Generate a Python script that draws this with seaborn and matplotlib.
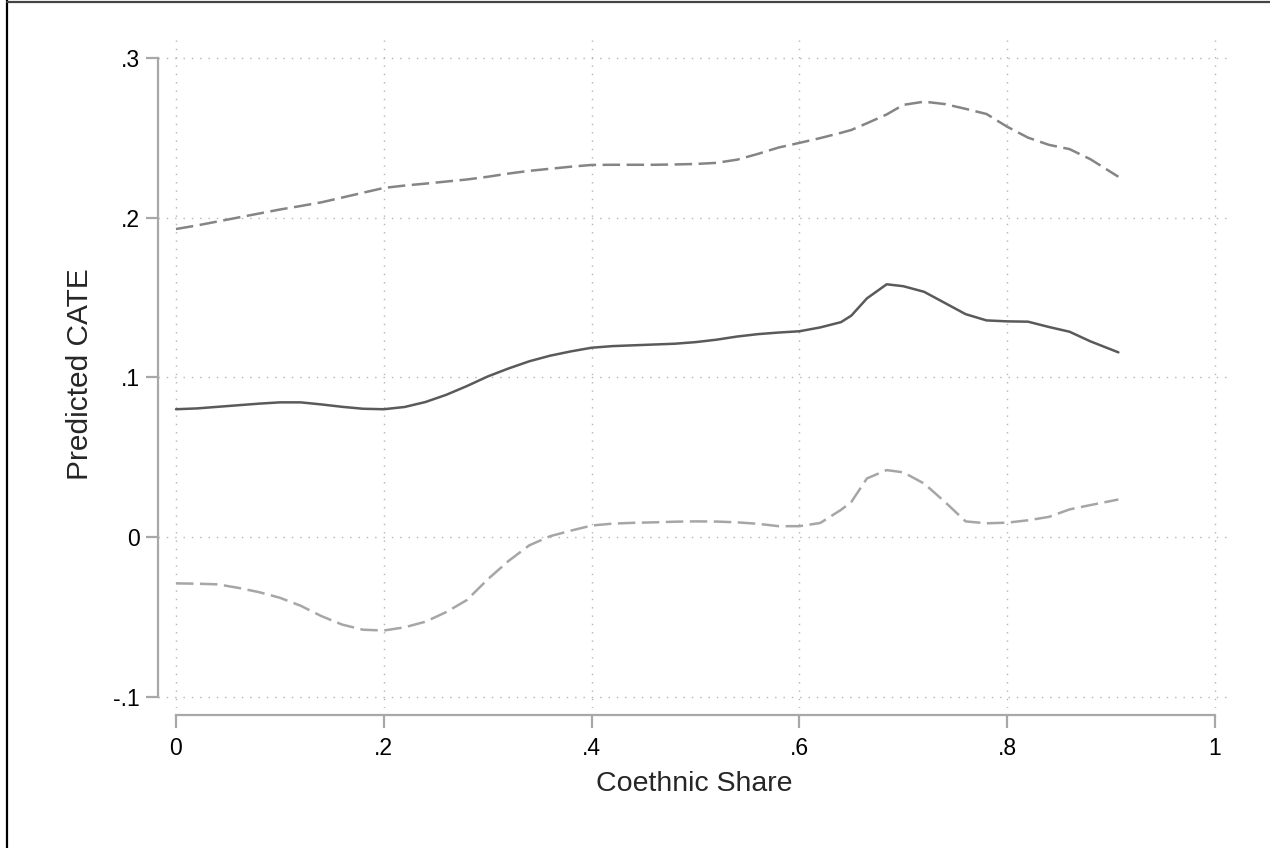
import numpy as np
import pandas as pd
import matplotlib
matplotlib.use("Agg")
import matplotlib.pyplot as plt
from matplotlib.lines import Line2D
import seaborn as sns

# ---- data ----
coethnic_share = [0.00, 0.02, 0.04, 0.06, 0.08, 0.10, 0.12, 0.14, 0.16, 0.18,
                  0.20, 0.22, 0.24, 0.26, 0.28, 0.30, 0.32, 0.34, 0.36, 0.38,
                  0.40, 0.42, 0.44, 0.46, 0.48, 0.50, 0.52, 0.54, 0.56, 0.58,
                  0.60, 0.62, 0.64, 0.65, 0.665, 0.684, 0.70, 0.72, 0.74, 0.76,
                  0.78, 0.80, 0.82, 0.84, 0.86, 0.88, 0.907]

cate = [0.0800, 0.0805, 0.0815, 0.0825, 0.0835, 0.0843, 0.0843, 0.0830, 0.0815, 0.0803,
        0.0800, 0.0814, 0.0845, 0.0890, 0.0945, 0.1005, 0.1055, 0.1100, 0.1135, 0.1162,
        0.1185, 0.1195, 0.1200, 0.1205, 0.1210, 0.1220, 0.1235, 0.1255, 0.1270, 0.1280,
        0.1288, 0.1312, 0.1345, 0.1386, 0.1494, 0.1582, 0.1570, 0.1535, 0.1465, 0.1395,
        0.1356, 0.1350, 0.1348, 0.1315, 0.1285, 0.1225, 0.1156]

upper_ci = [0.1928, 0.1950, 0.1975, 0.2000, 0.2025, 0.2050, 0.2072, 0.2095, 0.2125, 0.2155,
            0.2185, 0.2200, 0.2212, 0.2225, 0.2238, 0.2255, 0.2275, 0.2292, 0.2305, 0.2318,
            0.2329, 0.2330, 0.2330, 0.2330, 0.2332, 0.2335, 0.2342, 0.2362, 0.2398, 0.2438,
            0.2467, 0.2497, 0.2530, 0.2548, 0.2590, 0.2645, 0.2705, 0.2725, 0.2710, 0.2680,
            0.2648, 0.2568, 0.2500, 0.2455, 0.2428, 0.2365, 0.2255]

lower_ci = [-0.0290, -0.0292, -0.0296, -0.0318, -0.0345, -0.0380, -0.0430, -0.0495, -0.0548, -0.0580,
            -0.0585, -0.0565, -0.0530, -0.0470, -0.0394, -0.0265, -0.0150, -0.0052, 0.0005, 0.0040,
            0.0072, 0.0084, 0.0089, 0.0092, 0.0096, 0.0098, 0.0097, 0.0092, 0.0083, 0.0068,
            0.0068, 0.0088, 0.0170, 0.0220, 0.0367, 0.0419, 0.0405, 0.0335, 0.0220, 0.0098,
            0.0086, 0.0090, 0.0105, 0.0126, 0.0173, 0.0200, 0.0235]

x_ticks = [0, 0.2, 0.4, 0.6, 0.8, 1.0]
x_tick_labels = ["0", ".2", ".4", ".6", ".8", "1"]
y_ticks = [-0.1, 0, 0.1, 0.2, 0.3]
y_tick_labels = ["-.1", "0", ".1", ".2", ".3"]

df = pd.DataFrame({
    "share": coethnic_share * 3,
    "value": cate + upper_ci + lower_ci,
    "series": ["cate"] * len(cate) + ["upper"] * len(upper_ci) + ["lower"] * len(lower_ci),
})

sns.set_style("white")
plt.rcParams["font.family"] = ["Liberation Sans", "DejaVu Sans"]

fig = plt.figure(figsize=(12.7, 8.48), dpi=100)
ax = fig.add_axes([158 / 1270, 1 - 708 / 848, (1230 - 158) / 1270, (708 - 40) / 848])

palette = {"cate": "#5a5a5a", "upper": "#858585", "lower": "#a6a6a6"}
dashes = {"cate": "", "upper": (7.0, 2.6), "lower": (7.0, 2.6)}
sns.lineplot(data=df, x="share", y="value", hue="series", style="series",
             palette=palette, dashes=dashes, linewidth=1.8, legend=False,
             ax=ax, sort=False, zorder=3)

ax.set_xlim(-0.0173, 1.0144)
ax.set_ylim(-0.107, 0.3111)

# spines first (set_position resets tick styling)
for s in ["top", "right"]:
    ax.spines[s].set_visible(False)
spine_col = "#a8a8a8"
ax.spines["bottom"].set_position(("outward", 5.0))
ax.spines["left"].set_bounds(-0.1, 0.3)
ax.spines["left"].set_color(spine_col)
ax.spines["left"].set_linewidth(1.6)
ax.spines["bottom"].set_bounds(0, 1)
ax.spines["bottom"].set_color(spine_col)
ax.spines["bottom"].set_linewidth(1.6)

ax.set_xticks(x_ticks)
ax.set_yticks(y_ticks)
ax.set_xticklabels(x_tick_labels)
ax.set_yticklabels(y_tick_labels)

ax.tick_params(axis="both", which="major", length=9, width=1.6, color=spine_col,
               labelsize=16.5, labelcolor="black", direction="out", left=True, bottom=True)
ax.tick_params(axis="y", pad=4)
ax.tick_params(axis="x", pad=7)

ax.grid(True, linestyle=(0, (1, 5)), color="#b4b4b4", linewidth=1.0)
ax.set_axisbelow(True)

ax.set_xlabel("Coethnic Share", fontsize=20.5, labelpad=8)
ax.set_ylabel("Predicted CATE", fontsize=21.5, labelpad=14)

# outer frame of the screenshot (left and top edges)
fig.add_artist(Line2D([6.5 / 1270, 6.5 / 1270], [0, 1], transform=fig.transFigure,
                      color="black", linewidth=1.6))
fig.add_artist(Line2D([6.5 / 1270, 1], [1 - 1.5 / 848, 1 - 1.5 / 848], transform=fig.transFigure,
                      color="#444444", linewidth=1.6))

fig.savefig("out.png", dpi=100)
